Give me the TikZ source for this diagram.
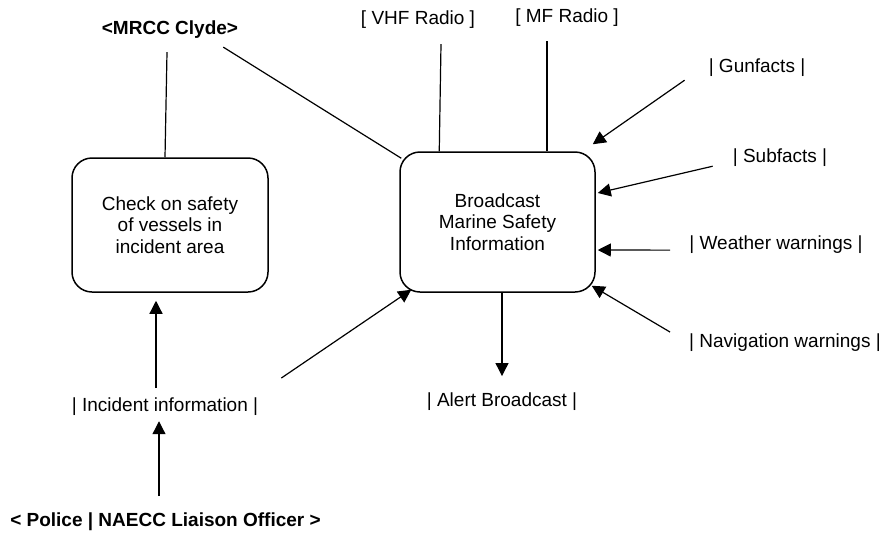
\documentclass[tikz,border=0pt]{standalone}
\usepackage{fontspec}
\setmainfont{Liberation Sans}
\usepackage{tikz}
\usetikzlibrary{arrows.meta}

\begin{document}
\begin{tikzpicture}[x=1pt,y=1pt,
        every node/.style={font=\fontsize{19}{21.5}\selectfont},
        process/.style={draw,line width=1.5pt,rounded corners=20pt,align=center,inner sep=0pt},
        flow/.style={inner sep=0pt,anchor=base},
        actor/.style={inner sep=0pt,anchor=base,font=\fontsize{19}{21.5}\selectfont\bfseries},
        link/.style={line width=1.2pt},
        arrow/.style={line width=1.2pt,-{Triangle[length=13pt,width=13pt]}}]
            \useasboundingbox (0,0) rectangle (888,-536);
            \node[process,minimum width=196pt,minimum height=134pt] (check) at (170,-225) {Check on safety\\of vessels in\\incident area};
            \node[process,minimum width=195pt,minimum height=140pt] (bcast) at (497.5,-222) {Broadcast\\Marine Safety\\Information};
            \node[actor] (mrcc) at (170,-34) {<MRCC Clyde>};
            \node[actor] (police) at (165.5,-526) {< Police | NAECC Liaison Officer >};
            \node[flow] (vhf) at (418,-24) {[ VHF Radio ]};
            \node[flow] (mf) at (567,-22) {[ MF Radio ]};
            \node[flow] (gun) at (757,-72) {| Gunfacts |};
            \node[flow] (sub) at (780,-162) {| Subfacts |};
            \node[flow] (wx) at (776,-249) {| Weather warnings |};
            \node[flow] (nav) at (785,-347) {| Navigation warnings |};
            \node[flow] (alert) at (502,-406) {| Alert Broadcast |};
            \node[flow] (incident) at (165,-411) {| Incident information |};
            \draw[link] ([shift={(-3,-14)}]mrcc.south) -- ([xshift=-5pt]check.north);
            \draw[link] ([shift={(-15,-9)}]mrcc.south east) -- ([shift={(2,-7)}]bcast.north west);
            \draw[link] ([shift={(23,-16)}]vhf.south) -- ([xshift=40pt]bcast.north west);
            \draw[link] ([shift={(-20,-15)}]mf.south) -- ([xshift=49.5pt]bcast.north);
            \draw[arrow] ([shift={(-24,-4)}]gun.south west) -- ([shift={(-3,7)}]bcast.north east);
            \draw[arrow] ([xshift=-20pt]sub.south west) -- ([shift={(2,29)}]bcast.east);
            \draw[arrow] ([shift={(-19,-6)}]wx.west) -- ([shift={(2,-28)}]bcast.east);
            \draw[arrow] ([shift={(-19,1)}]nav.north west) -- ([shift={(-4,7)}]bcast.south east);
            \draw[arrow] ([xshift=4.5pt]bcast.south) -- ([yshift=16pt]alert.north);
            \draw[arrow] ([shift={(23,19)}]incident.north east) -- ([shift={(12,3)}]bcast.south west);
            \draw[arrow] ([shift={(-9,9)}]incident.north) -- ([shift={(-14,-8)}]check.south);
            \draw[arrow] ([shift={(-6.5,16)}]police.north) -- ([shift={(-6,-6)}]incident.south);
        \end{tikzpicture}
\end{document}
